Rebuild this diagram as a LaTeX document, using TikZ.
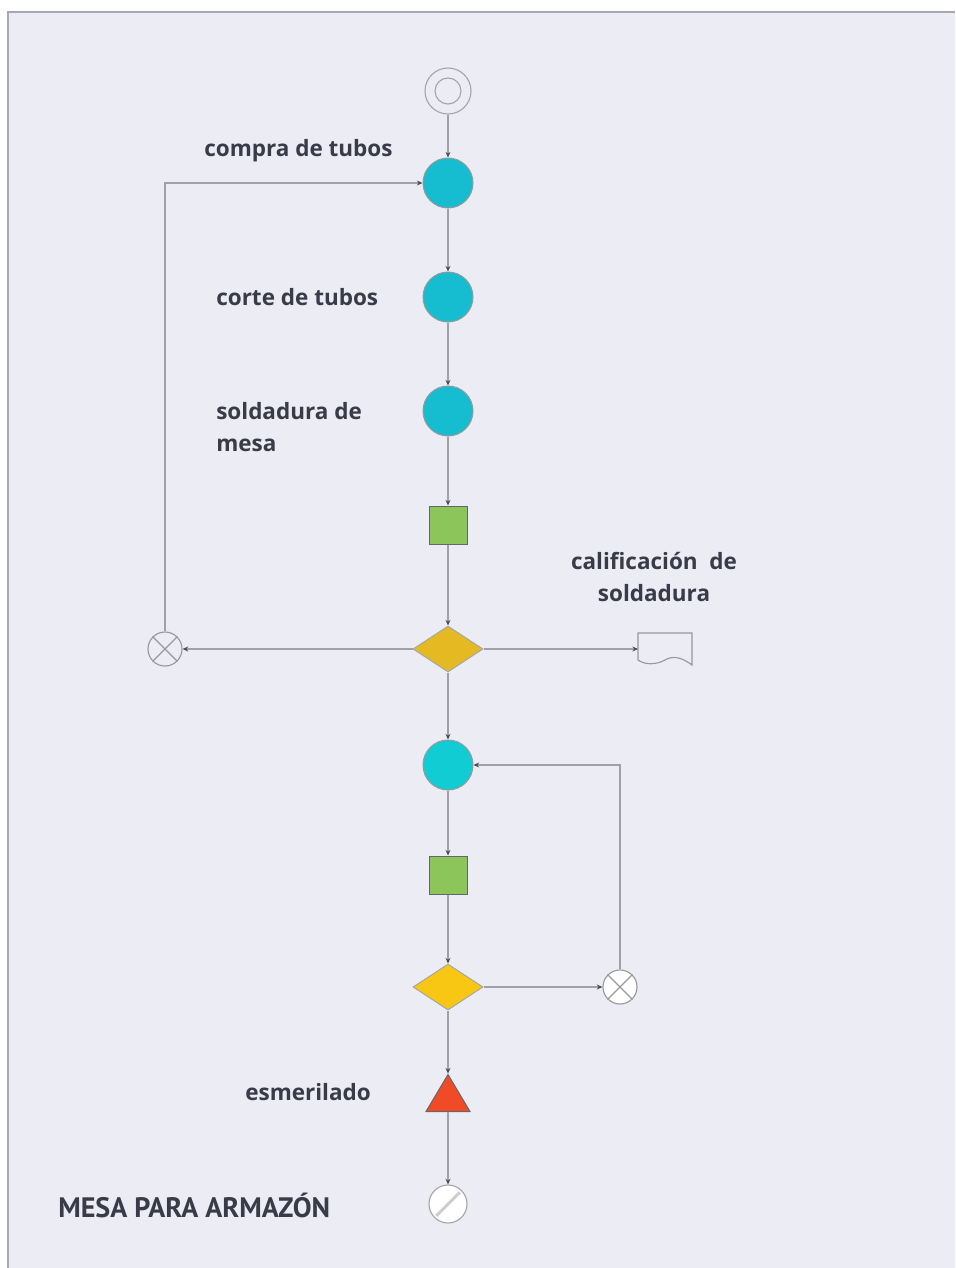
\documentclass[tikz,border=0pt]{standalone}
\usepackage{fontspec}
\setmainfont{Open Sans}
\newfontfamily\titlefont{PT Sans}
\usetikzlibrary{shapes.geometric,arrows.meta,calc}
\definecolor{bgc}{HTML}{ECECF5}
\definecolor{framec}{HTML}{A8A8B0}
\definecolor{linec}{HTML}{A0A0AA}
\definecolor{cyanA}{HTML}{16BDD0}
\definecolor{cyanB}{HTML}{12CCD4}
\definecolor{greenA}{HTML}{8CC65A}
\definecolor{yellA}{HTML}{E4B921}
\definecolor{yellB}{HTML}{F8C714}
\definecolor{redA}{HTML}{F04A26}
\definecolor{txtc}{HTML}{3A3B48}
\tikzset{
  op/.style={circle,draw=gray!80,line width=0.7,fill=cyanA,minimum size=1.25cm,inner sep=0},
  insp/.style={rectangle,draw=gray!80!black,line width=0.7,fill=greenA,minimum size=0.95cm,inner sep=0},
  dec/.style={diamond,draw=gray!70,line width=0.7,fill=yellA,minimum width=1.75cm,minimum height=1.15cm,inner sep=0,aspect=1.5},
  xc/.style={circle,draw=gray!80,line width=0.8,minimum size=0.85cm,inner sep=0},
  conn/.style={draw=linec,line width=1,-{Stealth[length=4,width=3.5,fill=black!70,color=black!70]}},
  lbl/.style={text=txtc,font=\fontsize{16}{23}\selectfont\bfseries,inner sep=0},
}
\begin{document}
\begin{tikzpicture}[x=0.025cm,y=-0.025cm]
\useasboundingbox (0,0) rectangle (955,1268);
\fill[white] (0,0) rectangle (955,1268);
\fill[bgc] (8,12) rectangle (955,1268);
\draw[framec,line width=1.5] (8,1268) -- (8,12) -- (955,12);

% nodes
\node[circle,draw=gray!70,line width=0.8,minimum size=1.15cm,inner sep=0] (start) at (448,91) {};
\node[circle,draw=gray!70,line width=0.8,minimum size=0.65cm,inner sep=0] (startin) at (448,91) {};
\node[op] (n1) at (448,183) {};
\node[op] (n2) at (448,297) {};
\node[op] (n3) at (448,411) {};
\node[insp] (q1) at (448,525) {};
\node[dec] (d1) at (448,649) {};
\node[xc] (x1) at (165,649) {};
\draw[gray!80,line width=0.8] (x1.45) -- (x1.225) (x1.135) -- (x1.315);
\node[op,fill=cyanB] (n4) at (448,765) {};
\node[insp] (q2) at (448,875) {};
\node[dec,fill=yellB] (d2) at (448,987) {};
\node[xc,fill=white] (x2) at (620,987) {};
\draw[gray!80,line width=0.8] (x2.45) -- (x2.225) (x2.135) -- (x2.315);
\node[isosceles triangle,isosceles triangle apex angle=60,shape border rotate=90,draw=gray!80!black,line width=0.7,fill=redA,minimum height=0.925cm,minimum width=1.1cm,inner sep=0,isosceles triangle stretches] (tri) at (448,1099) {};
\node[circle,draw=gray!70,line width=0.8,fill=white,minimum size=0.95cm,inner sep=0] (fin) at (448,1204) {};
\draw[gray!40,line width=2] ($(fin.225)+(2,-2)$) -- ($(fin.45)+(-2,2)$);
% document
\coordinate (docw) at (638,649);
\draw[gray!80,line width=0.8,fill=bgc] (638,633) -- (692,633) -- (692,665) .. controls (680,656) and (672,656) .. (665,660) .. controls (656,665) and (645,665) .. (638,660) -- cycle;

% connectors
\draw[conn] (start) -- (n1);
\draw[conn] (n1) -- (n2);
\draw[conn] (n2) -- (n3);
\draw[conn] (n3) -- (q1);
\draw[conn] (q1) -- (d1.north);
\draw[conn] (d1.south) -- (n4);
\draw[conn] (n4) -- (q2);
\draw[conn] (q2) -- (d2.north);
\draw[conn] (d2.south) -- (tri.apex);
\draw[conn] (tri.south) -- (fin);
\draw[conn] (d1.west) -- (x1);
\draw[conn] (x1.north) |- (n1.west);
\draw[conn] (d1.east) -- (docw);
\draw[conn] (d2.east) -- (x2);
\draw[conn] (x2.north) |- (n4.east);

% labels
\node[lbl,anchor=west] (l1) at (204,151) {compra de tubos};
\node[lbl,anchor=west] (l2) at (216,297) {corte de tubos};
\node[lbl,anchor=west,align=left] (l3) at (216,427) {soldadura de\\mesa};
\node[lbl,align=center] (l4) at (654,577) {calificación\ \ de\\soldadura};
\node[lbl,anchor=west] (l5) at (245,1092) {esmerilado};
\node[anchor=west,inner sep=0,text=txtc,font=\titlefont\fontsize{20}{22}\selectfont\bfseries] (title) at (58,1205) {MESA PARA ARMAZÓN};
\end{tikzpicture}
\end{document}
